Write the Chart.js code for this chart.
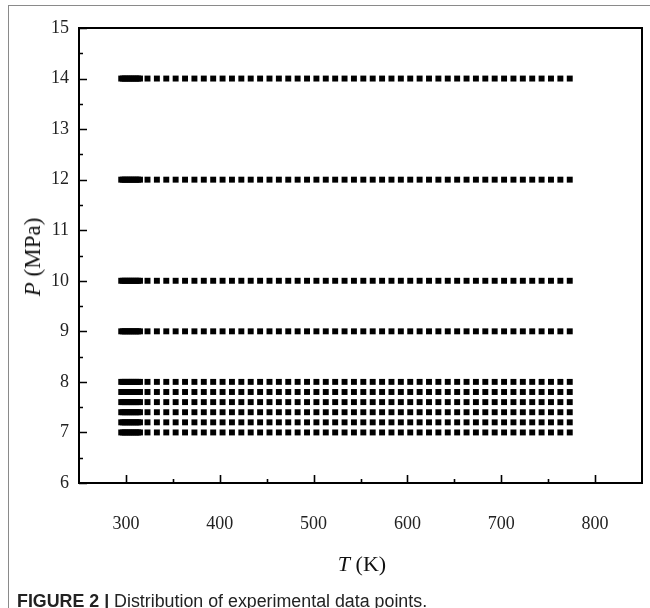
<!DOCTYPE html>
<html>
<head>
<meta charset="utf-8">
<script src="https://cdn.jsdelivr.net/npm/chart.js@4"></script>
<style>
  body { margin: 0; background: #fff; }
  #wrap { position: relative; width: 650px; height: 608px; overflow: hidden; }
  #frame { position: absolute; left: 8px; top: 5px; right: -2px; bottom: -2px;
           border-top: 1.5px solid #8a8a8a; border-left: 1.5px solid #8a8a8a; }
  canvas { position: absolute; left: 0; top: 0; }
  .axis-title { position: absolute; font-family: 'Liberation Serif', serif;
                color: #111; white-space: nowrap; }
  #ytitle { left: 33px; top: 257px; font-size: 23px; transform: translate(-50%, -50%) rotate(-90deg); }
  #xtitle { left: 362px; top: 564px; font-size: 22px; transform: translate(-50%, -50%); }
  #caption { position: absolute; left: 17px; top: 590px; font-family: 'Liberation Sans', Arial, sans-serif;
             font-size: 18px; line-height: 22px; color: #222; white-space: nowrap;
             transform: scaleX(0.99); transform-origin: left center; }
</style>
</head>
<body>
<div id="wrap">
  <div id="frame"></div>
  <canvas id="chart" width="650" height="608"></canvas>
  <div class="axis-title" id="ytitle"><i>P</i> (MPa)</div>
  <div class="axis-title" id="xtitle"><i>T</i> (K)</div>
  <div id="caption"><b>FIGURE 2 |</b> Distribution of experimental data points.</div>
</div>
<script>
// pressure levels measured (MPa)
const pressures = [7, 7.2, 7.4, 7.6, 7.8, 8, 9, 10, 12, 14];

// temperatures (K): dense near room temperature, then every 10 K
const denseTemps = [295, 297, 299, 301, 303, 305, 307, 309, 311, 313, 315];
const stepTemps = [323, 333, 343, 353, 363, 373, 383, 393, 403, 413, 423, 433, 443, 453,
    463, 473, 483, 493, 503, 513, 523, 533, 543, 553, 563, 573, 583, 593, 603, 613,
    623, 633, 643, 653, 663, 673, 683, 693, 703, 713, 723, 733, 743, 753, 763, 773];

// axis ticks
const xTickLabels = [300, 400, 500, 600, 700, 800];
const xMinorTicks = [350, 450, 550, 650, 750];
const yTickLabels = [6, 7, 8, 9, 10, 11, 12, 13, 14, 15];
const yMinorTicks = [6.5, 7.5, 8.5, 9.5, 10.5, 11.5, 12.5, 13.5, 14.5];

const allTemps = denseTemps.concat(stepTemps);
const points = [];
pressures.forEach(p => {
    allTemps.forEach(t => points.push({ x: t, y: p }));
});

// draws the box round the plot and the inward ticks
const frameAndTicks = {
    id: 'frameAndTicks',
    afterDraw(chart) {
        const ctx = chart.ctx;
        const a = chart.chartArea;
        const xs = chart.scales.x;
        const ys = chart.scales.y;
        ctx.save();
        ctx.strokeStyle = '#000';
        ctx.lineWidth = 1.6;
        ctx.beginPath();
        xTickLabels.forEach(v => {
            const x = Math.round(xs.getPixelForValue(v)) + 0.5;
            ctx.moveTo(x, a.bottom); ctx.lineTo(x, a.bottom - 8);
        });
        xMinorTicks.forEach(v => {
            const x = Math.round(xs.getPixelForValue(v)) + 0.5;
            ctx.moveTo(x, a.bottom); ctx.lineTo(x, a.bottom - 4);
        });
        yTickLabels.forEach(v => {
            const y = Math.round(ys.getPixelForValue(v)) + 0.5;
            ctx.moveTo(a.left, y); ctx.lineTo(a.left + 8, y);
        });
        yMinorTicks.forEach(v => {
            const y = Math.round(ys.getPixelForValue(v)) + 0.5;
            ctx.moveTo(a.left, y); ctx.lineTo(a.left + 4, y);
        });
        ctx.stroke();
        ctx.lineWidth = 2;
        ctx.strokeRect(a.left, a.top, a.right - a.left, a.bottom - a.top);
        ctx.restore();
    }
};

Chart.defaults.font.family = "'Liberation Serif', serif";
Chart.defaults.font.size = 18;
Chart.defaults.color = '#222';

new Chart(document.getElementById('chart').getContext('2d'), {
    type: 'scatter',
    data: {
        datasets: [{
            data: points,
            pointStyle: 'rect',
            pointRadius: 4.2,
            pointBorderWidth: 0,
            backgroundColor: '#000',
            borderColor: '#000'
        }]
    },
    options: {
        responsive: false,
        animation: false,
        devicePixelRatio: 1,
        layout: { padding: { left: 0, top: 28, right: 8, bottom: 0 } },
        plugins: { legend: { display: false }, tooltip: { enabled: false } },
        scales: {
            x: {
                type: 'linear',
                min: 250,
                max: 850,
                grid: { display: false, drawTicks: false },
                border: { display: false },
                ticks: { padding: 30 },
                afterBuildTicks: s => { s.ticks = xTickLabels.map(v => ({ value: v })); },
                afterFit: s => { s.height = 125; }
            },
            y: {
                type: 'linear',
                min: 6,
                max: 15,
                grid: { display: false, drawTicks: false },
                border: { display: false },
                ticks: { padding: 10 },
                afterBuildTicks: s => { s.ticks = yTickLabels.map(v => ({ value: v })); },
                afterFit: s => { s.width = 79; }
            }
        }
    },
    plugins: [frameAndTicks]
});
</script>
</body>
</html>
